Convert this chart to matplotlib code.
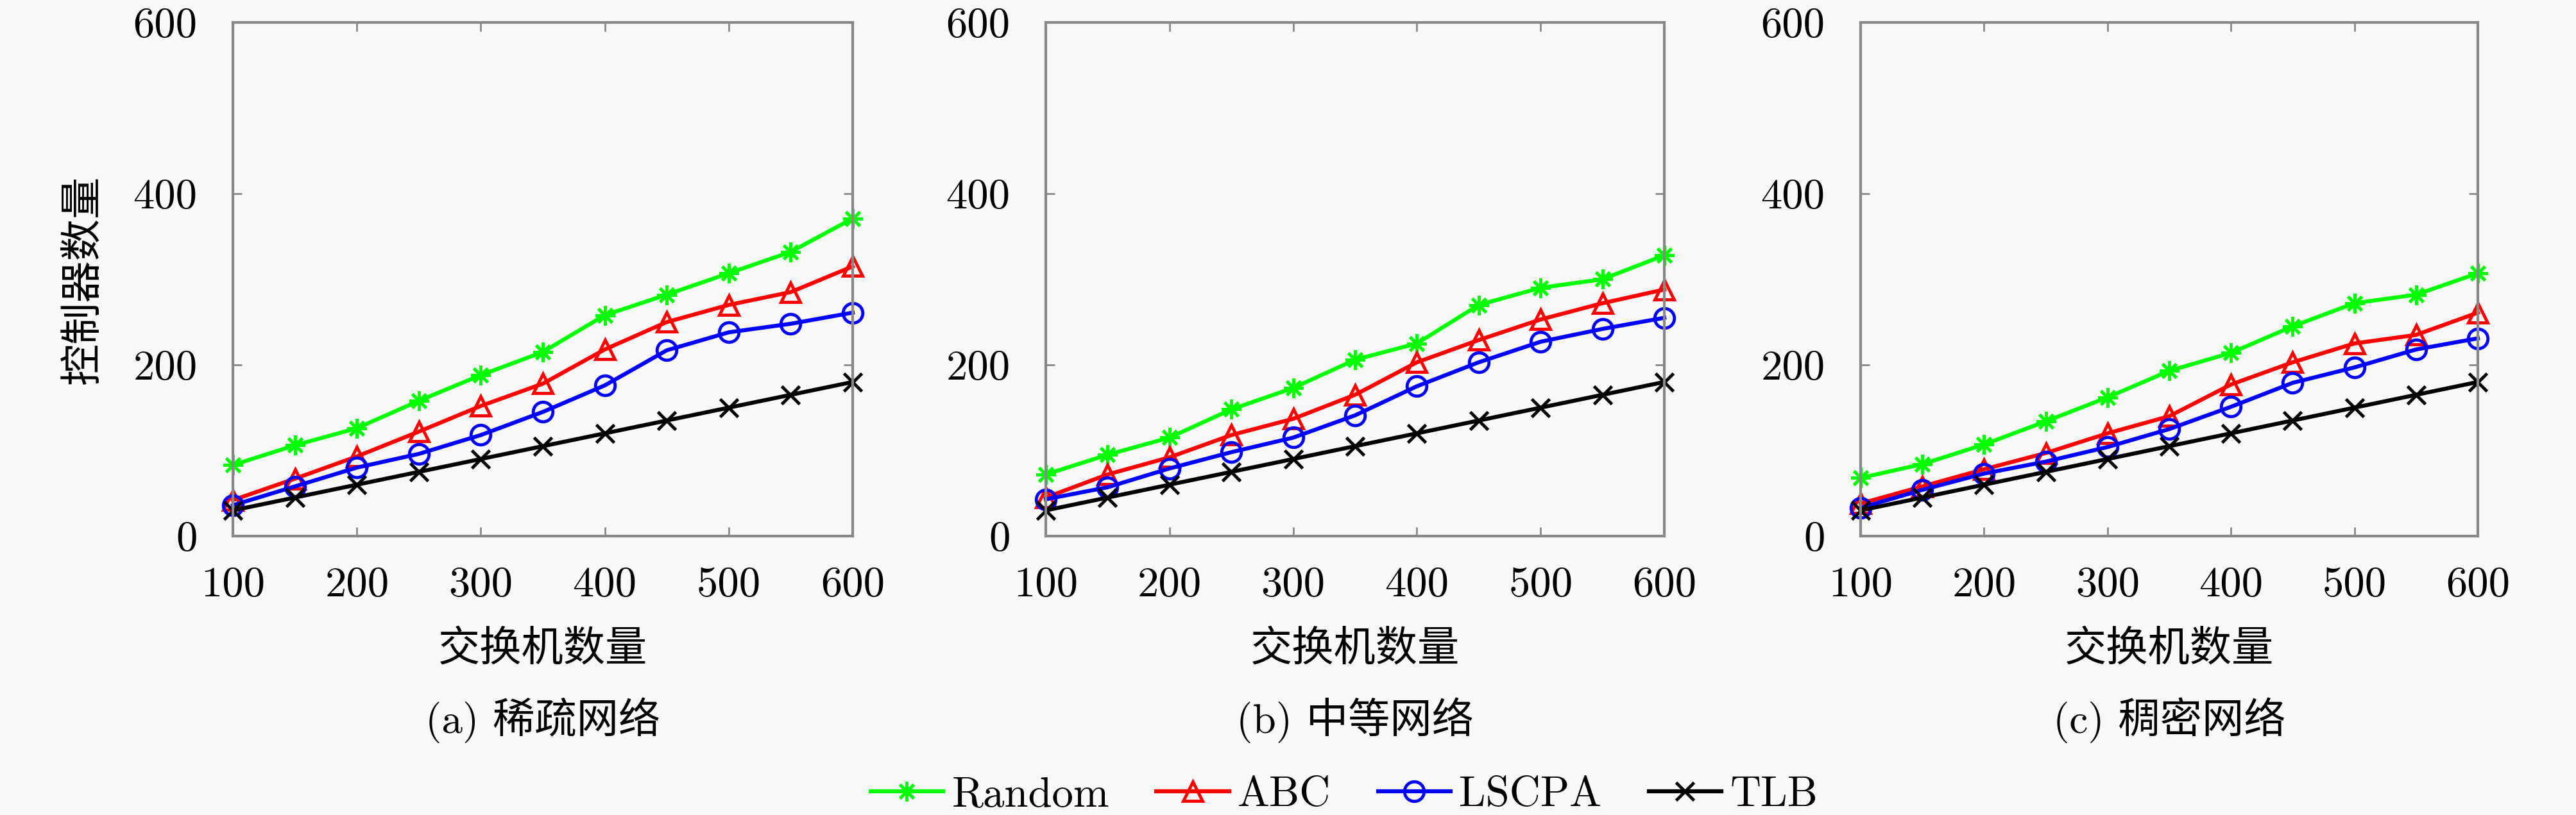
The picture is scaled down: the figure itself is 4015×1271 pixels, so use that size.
import numpy as np
import matplotlib
matplotlib.use('Agg')
import matplotlib.pyplot as plt

plt.rcParams['font.family'] = ['cmr10', 'Noto Sans CJK SC', 'DejaVu Sans']
plt.rcParams['axes.formatter.use_mathtext'] = True

# switch counts (x axis)
switches = [100, 150, 200, 250, 300, 350, 400, 450, 500, 550, 600]

# (a) sparse network
sparse_random = [83, 106, 126, 158, 188, 215, 258, 282, 307, 332, 371]
sparse_abc    = [42, 67, 93, 122, 152, 178, 218, 250, 270, 285, 315]
sparse_lscpa  = [36, 58, 80, 96, 118, 145, 176, 217, 238, 248, 261]
sparse_tlb    = [30, 45, 60, 75, 90, 105, 120, 135, 150, 165, 180]

# (b) medium network
medium_random = [72, 95, 115, 148, 173, 206, 225, 270, 290, 300, 328]
medium_abc    = [45, 72, 92, 118, 137, 165, 203, 229, 253, 272, 288]
medium_lscpa  = [43, 57, 79, 98, 115, 141, 175, 203, 227, 242, 255]
medium_tlb    = [30, 45, 60, 75, 90, 105, 120, 135, 150, 165, 180]

# (c) dense network
dense_random = [68, 84, 107, 134, 162, 193, 214, 245, 272, 282, 307]
dense_abc    = [38, 58, 78, 97, 120, 140, 177, 203, 225, 235, 261]
dense_lscpa  = [33, 54, 73, 87, 104, 125, 151, 179, 197, 218, 231]
dense_tlb    = [30, 45, 60, 75, 90, 105, 120, 135, 150, 165, 180]

panels = [
    ('(a) 稀疏网络', sparse_random, sparse_abc, sparse_lscpa, sparse_tlb),
    ('(b) 中等网络', medium_random, medium_abc, medium_lscpa, medium_tlb),
    ('(c) 稠密网络', dense_random, dense_abc, dense_lscpa, dense_tlb),
]
series_names = ['Random', 'ABC', 'LSCPA', 'TLB']
xticks = [100, 200, 300, 400, 500, 600]
yticks = [0, 200, 400, 600]

STYLE = {
    'Random': dict(color='#00ff00', marker=(8, 2, 0), markersize=22, markeredgewidth=3.5),
    'ABC':    dict(color='#ff0000', marker='^', markersize=22, markeredgewidth=3.5,
                   markerfacecolor='none'),
    'LSCPA':  dict(color='#0000ff', marker='o', markersize=22, markeredgewidth=3.5,
                   markerfacecolor='none'),
    'TLB':    dict(color='#000000', marker='x', markersize=20, markeredgewidth=3.5),
}

BG = '#f8f8f8'
FS = 47
fig = plt.figure(figsize=(40.16, 12.71), dpi=100, facecolor=BG)
lefts = [363, 1630, 2900]
widths = [966, 964, 962]
W, H = 4016, 1271
ax_bottom, ax_top = 836, 35

handles = None
for i, (cap, r, a, l, t) in enumerate(panels):
    ax = fig.add_axes([lefts[i] / W, 1 - ax_bottom / H, widths[i] / W,
                       (ax_bottom - ax_top) / H], facecolor=BG)
    lines = []
    for name, vals in zip(series_names, [r, a, l, t]):
        ln, = ax.plot(switches, vals, linewidth=4.5, label=name, **STYLE[name])
        lines.append(ln)
    if handles is None:
        handles = lines
    ax.set_xlim(100, 600)
    ax.set_ylim(0, 600)
    ax.set_xticks(xticks)
    ax.set_xticklabels([str(v) for v in xticks])
    ax.set_yticks(yticks)
    ax.set_yticklabels([str(v) for v in yticks])
    ax.tick_params(direction='in', length=10, width=2, color='#888888',
                   top=True, right=True, labelsize=48)
    ax.tick_params(axis='x', pad=34)
    ax.tick_params(axis='y', pad=40)
    for sp in ax.spines.values():
        sp.set_color('#888888')
        sp.set_linewidth(3)
    for ln in lines:
        ln.set_clip_on(False)
    ax.set_xlabel('交换机数量', fontsize=FS)
    ax.xaxis.set_label_coords(0.5, -0.221)
    ax.xaxis.label.set_va('center')
    ax.text(0.5, -0.358, cap, transform=ax.transAxes, ha='center', va='center',
            fontsize=FS)
    if i == 0:
        ax.set_ylabel('控制器数量', fontsize=FS)
        ax.yaxis.set_label_coords(-0.241, 0.5)
        ax.yaxis.label.set_va('center')

fig.legend(handles, series_names, loc='center', bbox_to_anchor=(2095 / W, 1 - 1240 / H),
           ncol=4, frameon=False, fontsize=48, handlelength=1.7, handletextpad=0.2,
           columnspacing=1.1)

plt.savefig('out.png', dpi=100, facecolor=BG)
plt.close()
